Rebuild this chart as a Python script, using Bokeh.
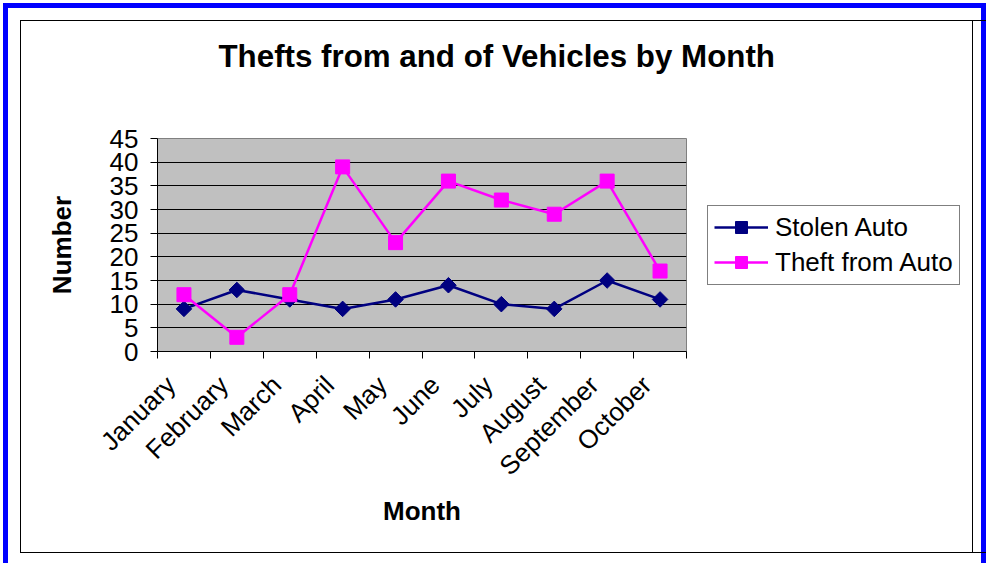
import math
from bokeh.plotting import figure
from bokeh.models import LinearAxis, FixedTicker, Range1d, FactorRange, Legend, LegendItem, Title
from bokeh.layouts import column
from bokeh.embed import file_html
from bokeh.resources import INLINE

# ---- data ----
months = ["January", "February", "March", "April", "May",
          "June", "July", "August", "September", "October"]
stolen_auto = [9, 13, 11, 9, 11, 14, 10, 9, 15, 11]
theft_from_auto = [12, 3, 12, 39, 23, 36, 32, 29, 36, 17]
y_ticks = [0, 5, 10, 15, 20, 25, 30, 35, 40, 45]
series_names = ["Stolen Auto", "Theft from Auto"]
chart_title = "Thefts from and of Vehicles by Month"

FONT = "Liberation Sans"

p = figure(width=951, height=531, frame_width=527, frame_height=211,
           x_range=FactorRange(*months),
           y_range=Range1d(y_ticks[0], y_ticks[-1]),
           x_axis_type=None, title=None,
           output_backend="svg", toolbar_location=None,
           min_border_left=136, min_border_right=288,
           min_border_top=117, min_border_bottom=203,
           background_fill_color="#C0C0C0",
           border_fill_color="white", border_fill_alpha=0,
           outline_line_color="#808080",
           styles={"border": "1px solid black",
                   "background": "linear-gradient(to right, white 0px, white 951px, "
                                 "black 951px, black 952px, white 952px, white 960px, "
                                 "#0000FF 960px, #0000FF 965px, white 965px, white 100%)"})

# title (spacer title closest to the frame, then the real title)
spacer = Title(text=" ", text_font_size="1px", standoff=62)
p.add_layout(spacer, "above")
main_title = Title(text=chart_title, text_font=FONT, text_font_size="31.3px",
                   text_font_style="bold", text_color="black",
                   align="left", offset=61, standoff=0)
p.add_layout(main_title, "above")

# y axis
yax = p.yaxis[0]
yax.ticker = FixedTicker(ticks=y_ticks, minor_ticks=[])
yax.major_label_text_font = FONT
yax.major_label_text_font_size = "26px"
yax.major_label_text_color = "black"
yax.major_tick_out = 7
yax.major_tick_in = 0
yax.major_tick_line_color = "black"
yax.axis_line_color = "black"
yax.major_label_standoff = 12
yax.axis_label = "Number"
yax.axis_label_text_font = FONT
yax.axis_label_text_font_size = "26px"
yax.axis_label_text_font_style = "bold"
yax.axis_label_text_color = "black"
yax.axis_label_standoff = 30
p.ygrid.ticker = yax.ticker
p.ygrid.grid_line_color = "black"

# x axis: rotated labels ending just left of each category centre,
# tick marks at the category boundaries
n = len(months)
label_pos = [i + 0.25 for i in range(n)]
bounds = list(range(n + 1))
xax = LinearAxis(ticker=FixedTicker(ticks=label_pos, minor_ticks=bounds),
                 major_label_overrides={c: m for c, m in zip(label_pos, months)})
xax.major_label_text_font = FONT
xax.major_label_text_font_size = "26px"
xax.major_label_text_color = "black"
xax.major_label_orientation = math.pi / 4
xax.major_tick_line_color = None
xax.minor_tick_out = 7
xax.minor_tick_in = 0
xax.minor_tick_line_color = "black"
xax.axis_line_color = "black"
xax.major_label_standoff = 22
xax.axis_label = "Month"
xax.axis_label_text_font = FONT
xax.axis_label_text_font_size = "26px"
xax.axis_label_text_font_style = "bold"
xax.axis_label_text_color = "black"
xax.axis_label_standoff = 1
p.add_layout(xax, "below")

# series
l1 = p.line(months, stolen_auto, line_color="#000080", line_width=2.5)
s1 = p.scatter(months, stolen_auto, marker="square", size=11, angle=math.pi / 4,
               fill_color="#000080", line_color="#000080")
l2 = p.line(months, theft_from_auto, line_color="#FF00FF", line_width=2.5)
s2 = p.scatter(months, theft_from_auto, marker="square", size=14,
               fill_color="#FF00FF", line_color="#FF00FF")

legend = Legend(items=[LegendItem(label=series_names[0], renderers=[l1, s1]),
                       LegendItem(label=series_names[1], renderers=[l2, s2])],
                location="center_left")
legend.label_text_font = FONT
legend.label_text_font_size = "26px"
legend.label_text_color = "black"
legend.glyph_width = 54
legend.glyph_height = 30
legend.label_height = 30
legend.label_standoff = 7
legend.padding = 6
legend.spacing = 4
legend.margin = 21
legend.border_line_color = "black"
legend.border_line_width = 1
legend.background_fill_color = "white"
legend.background_fill_alpha = 1
p.add_layout(legend, "right")

layout = column(p, styles={"border": "5px solid #0000FF",
                           "padding": "12px 8px 12px 12px",
                           "margin": "3px",
                           "background": "linear-gradient(to right, white 0px, white 973px, "
                                         "#0000FF 973px, #0000FF 978px, white 978px, white 100%)"})

open("out.html", "w").write(file_html(layout, INLINE))
